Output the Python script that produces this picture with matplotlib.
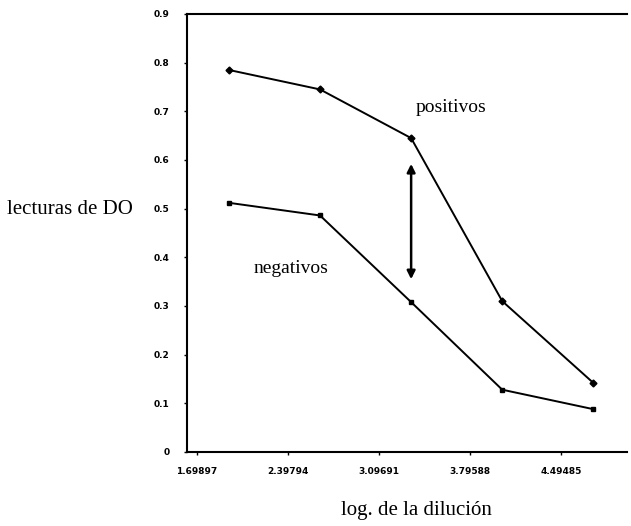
import matplotlib.pyplot as plt
import numpy as np

# Datos
dilucion = ["1.69897", "2.39794", "3.09691", "3.79588", "4.49485"]
positivos = [0.785, 0.745, 0.645, 0.31, 0.142]
negativos = [0.512, 0.486, 0.308, 0.128, 0.088]
y_ticks = [0, 0.1, 0.2, 0.3, 0.4, 0.5, 0.6, 0.7, 0.8, 0.9]
y_labels = ["0", "0.1", "0.2", "0.3", "0.4", "0.5", "0.6", "0.7", "0.8", "0.9"]

serif = ["Liberation Serif", "DejaVu Serif"]

fig = plt.figure(figsize=(6.31, 5.26), dpi=100)
ax = fig.add_axes([0.2964, 0.1407, 0.6973, 0.8327])

x = np.arange(len(dilucion))
ax.plot(x, positivos, color="black", linewidth=1.4, marker="D", markersize=3.5)
ax.plot(x, negativos, color="black", linewidth=1.4, marker="s", markersize=3.5)

# flecha doble entre las curvas
ax.annotate("", xy=(2, 0.355), xytext=(2, 0.592),
            arrowprops=dict(arrowstyle="<|-|>", color="black", lw=1.8,
                            mutation_scale=12, shrinkA=0, shrinkB=0))

ax.text(2.44, 0.708, "positivos", family=serif, fontsize=14, ha="center", va="center")
ax.text(0.68, 0.378, "negativos", family=serif, fontsize=14, ha="center", va="center")

ax.set_xlim(-0.46, 4.37)
ax.set_ylim(0, 0.9)
ax.set_xticks(x - 0.35)
ax.set_xticklabels(dilucion, fontsize=6.5, fontweight="bold")
ax.set_yticks(y_ticks)
ax.set_yticklabels(y_labels, fontsize=6.5, fontweight="bold")
ax.tick_params(axis="both", length=2.5, width=1)
ax.tick_params(axis="x", pad=8)
ax.tick_params(axis="y", pad=10)

for side in ["left", "bottom", "top"]:
    ax.spines[side].set_linewidth(1.5)
ax.spines["right"].set_visible(False)

fig.text(0.011, 1 - 209 / 526, "lecturas de DO", family=serif, fontsize=15,
         ha="left", va="center")
fig.text(0.66, 1 - 510 / 526, "log. de la dilución", family=serif, fontsize=15,
         ha="center", va="center")

fig.savefig("out.png", dpi=100)
